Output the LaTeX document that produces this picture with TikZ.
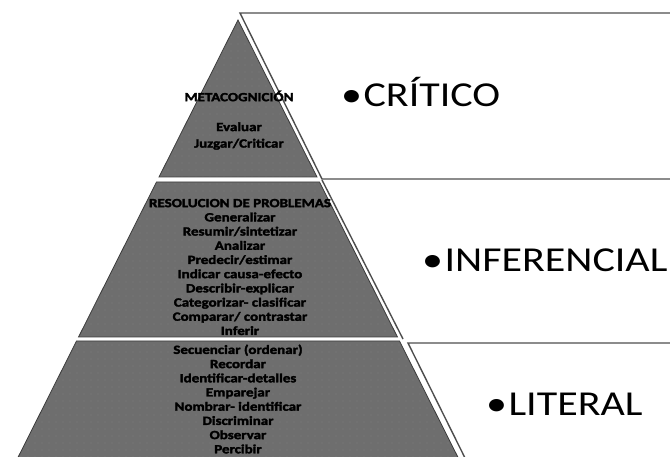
\documentclass[tikz,border=0pt]{standalone}
\usepackage{fontspec}
\setmainfont{Carlito}[FakeStretch=1.2, BoldFont = {Carlito Bold}, BoldFeatures = {FakeBold = 2.5}]
\usetikzlibrary{patterns.meta}

\definecolor{tiergray}{HTML}{6E6E6E}
\definecolor{edgegray}{HTML}{3C3C3C}
\definecolor{boxline}{HTML}{4E4E4E}

\tikzset{
	tier/.style = {draw = edgegray, line width = 0.8pt, preaction = {fill = tiergray},
		pattern = {Dots[distance = 7pt, radius = 0.45pt]}, pattern color = gray!80},
	box/.style = {draw = boxline, line width = 1.4pt},
	skill/.style = {align = center, inner sep = 0pt, text = black,
		font = \bfseries\fontsize{12.5}{14.2}\selectfont},
	level/.style = {anchor = base west, inner sep = 0pt, font = \fontsize{35}{40}\selectfont}
}

\begin{document}
\begin{tikzpicture}[x = 1pt, y = -1pt]

% Definitions

\def\X{238}		% Apex
\def\Y{20}
\def\S{0.503}	% Half width per unit of height

\useasboundingbox (0, 0) rectangle (670, 457);

% Pyramid tiers

\draw [tier] (\X, \Y) -- ({\X + \S * (177 - \Y)}, 177) -- ({\X - \S * (177 - \Y)}, 177) -- cycle;
\draw [tier] ({\X - \S * (182 - \Y)}, 182) -- ({\X + \S * (182 - \Y)}, 182) -- ({\X + \S * (337 - \Y)}, 337) -- ({\X - \S * (337 - \Y)}, 337) -- cycle;
\draw [tier] ({\X - \S * (341 - \Y)}, 341) -- ({\X + \S * (341 - \Y)}, 341) -- ({\X + \S * (462 - \Y)}, 462) -- ({\X - \S * (462 - \Y)}, 462) -- cycle;

% Level boxes

\draw [box] (670, 13) -- (240, 13) -- (322, 179) -- (670, 179);
\draw [box] (322, 180) -- (403, 339);
\draw [box] (670, 343) -- (408, 343) -- (466, 460);

% Skills

\node [skill] (meta) at (239, 96) {METACOGNICIÓN};
\node [skill, font = \bfseries\fontsize{12.5}{16.5}\selectfont] (evaluar) at (239, 136) {Evaluar\\Juzgar/Criticar};

\node [skill] (resolucion) at (240, 267) {RESOLUCION DE PROBLEMAS\\Generalizar\\Resumir/sintetizar\\Analizar\\Predecir/estimar\\Indicar causa-efecto\\Describir-explicar\\Categorizar- clasificar\\Comparar/ contrastar\\Inferir};

\node [skill] (secuenciar) at (238, 399) {Secuenciar (ordenar)\\Recordar\\Identificar-detalles\\Emparejar\\Nombrar- identificar\\Discriminar\\Observar\\Percibir};

% Levels

\node [level] (critico) at (341, 107) {•\hspace{1.5pt}CRÍTICO};
\node [level] (inferencial) at (422, 272) {•\hspace{1.5pt}INFERENCIAL};
\node [level] (literal) at (486, 415) {•\hspace{1.5pt}LITERAL};

\end{tikzpicture}
\end{document}
